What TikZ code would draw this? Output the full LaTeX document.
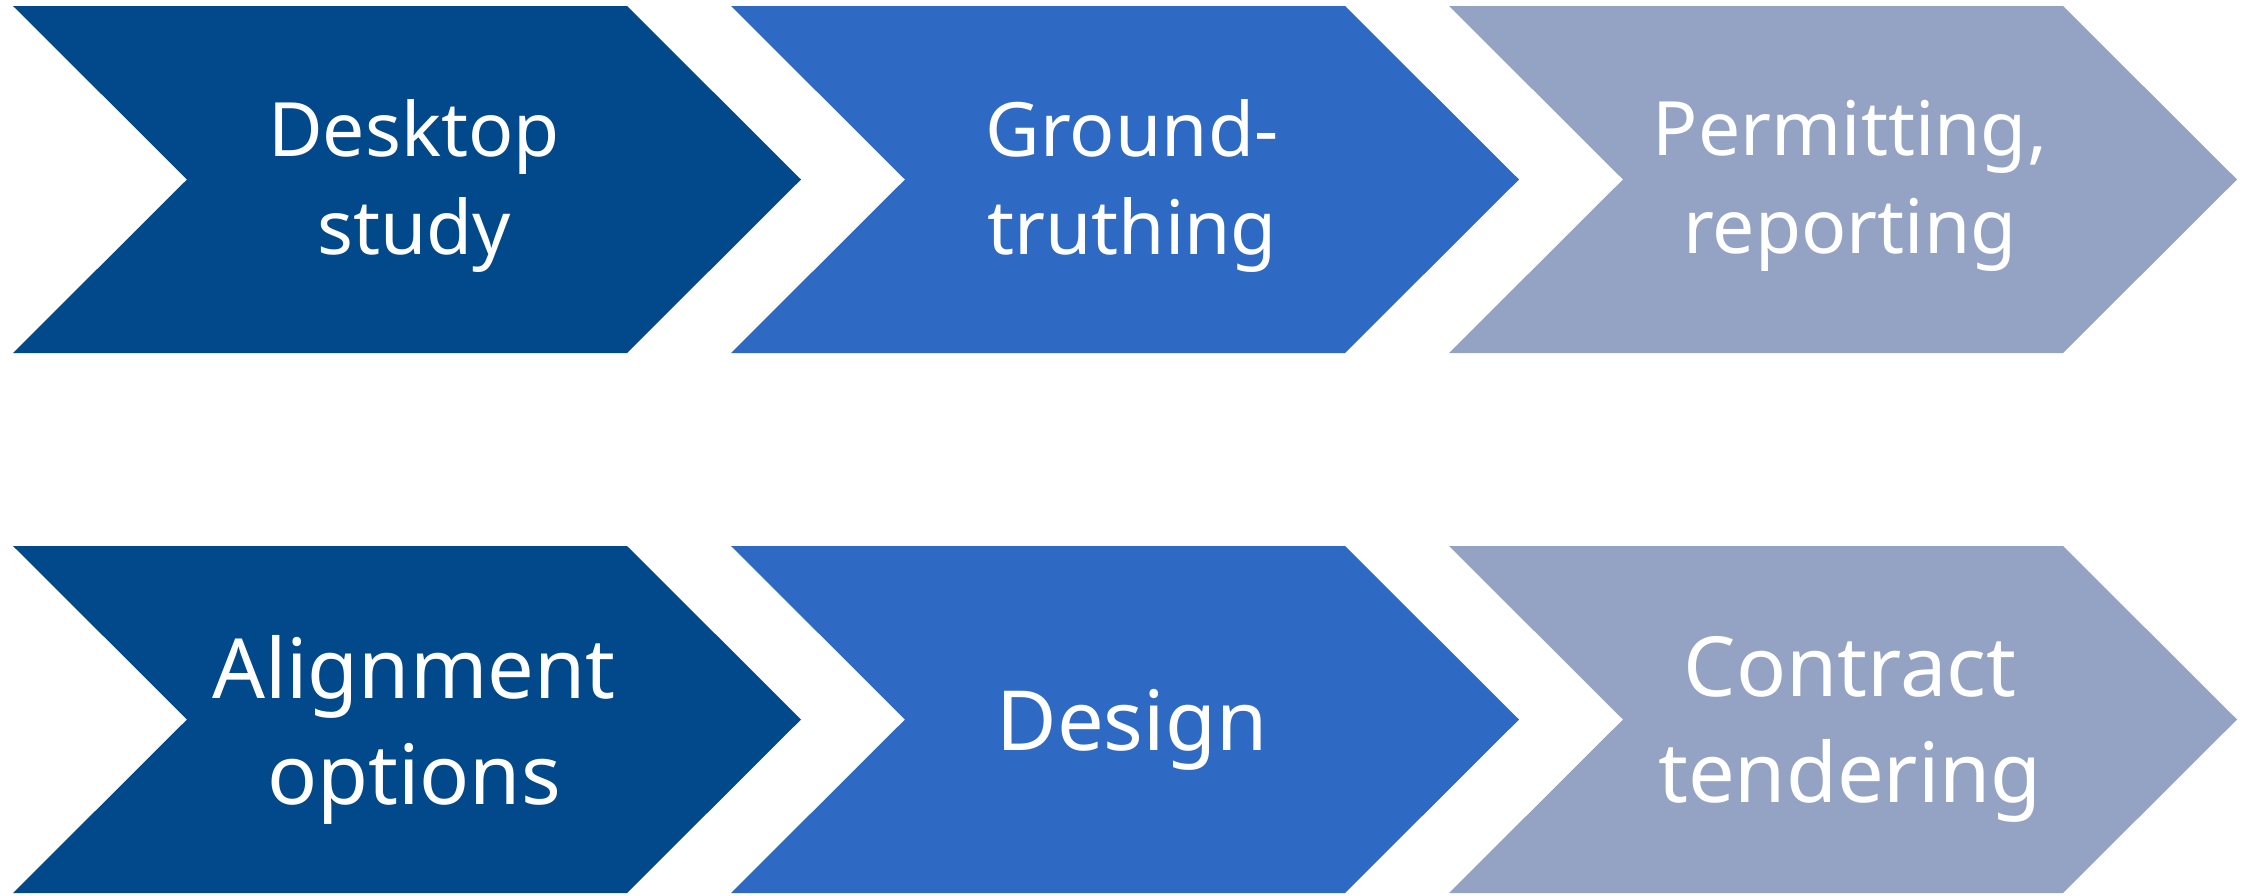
\documentclass[tikz,border=0pt]{standalone}
\usepackage{fontspec}
\setmainfont{Noto Sans}
\definecolor{cdark}{HTML}{02498B}
\definecolor{cmid}{HTML}{2E69C3}
\definecolor{cgray}{HTML}{94A3C3}
\tikzset{
  chevtext/.style={text=white, align=center, inner sep=0pt},
  toptext/.style={chevtext, font=\fontsize{75}{98}\selectfont},
  bottext/.style={chevtext, font=\fontsize{83}{106}\selectfont, yshift=-4pt},
}
\newcommand{\mychev}[6]{% left x, top y, colour, name, style, text
  \fill[#3] (#1,#2) -- ++(614,0) -- ++(174,173.5) -- ++(-174,173.5) -- ++(-614,0) -- ++(174,-173.5) -- cycle;
  \node[#5] (#4) at (#1+401,#2+179.5) {#6};
}
\begin{document}
\begin{tikzpicture}[x=1pt,y=-1pt]
\useasboundingbox (0,0) rectangle (2247,895);
\mychev{13}{6}{cdark}{desk}{toptext}{Desktop\\study}
\mychev{731}{6}{cmid}{ground}{toptext}{Ground-\\truthing}
\mychev{1449}{6}{cgray}{permit}{toptext}{Permitting,\\reporting}
\mychev{13}{546}{cdark}{align}{bottext}{Alignment\\options}
\mychev{731}{546}{cmid}{design}{bottext}{Design}
\mychev{1449}{546}{cgray}{contract}{bottext}{Contract\\tendering}
\end{tikzpicture}
\end{document}
